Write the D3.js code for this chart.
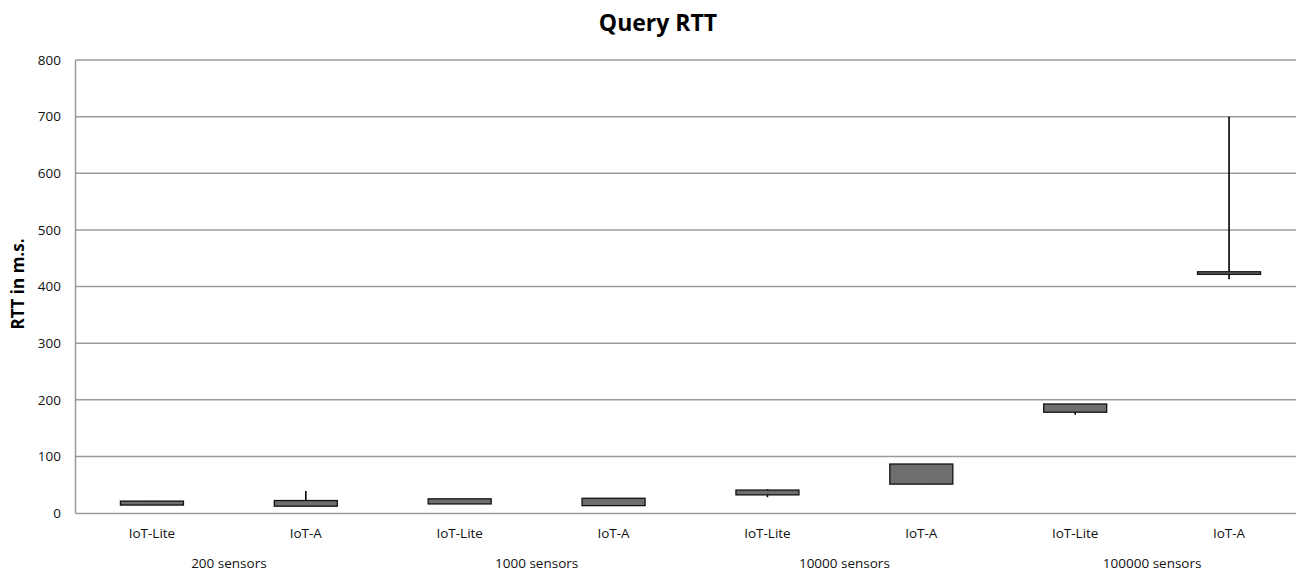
<!DOCTYPE html>
<html><head><meta charset="utf-8">
<script src="https://cdn.jsdelivr.net/npm/d3@7"></script>
<style>body{margin:0;background:#fff}svg{display:block}</style>
</head><body><svg id="c" width="1296" height="571"></svg>
<script>
const categories = ["IoT-Lite","IoT-A","IoT-Lite","IoT-A","IoT-Lite","IoT-A","IoT-Lite","IoT-A"];
const groups = ["200 sensors","1000 sensors","10000 sensors","100000 sensors"];
const boxLow  = [14, 12, 16, 13, 32, 51, 178, 421.5];
const boxHigh = [21, 22, 25, 26, 40.5, 86.5, 192.5, 426];
const whiskLow  = [14, 12, 16, 13, 28, 51, 173.5, 413];
const whiskHigh = [21, 39, 25, 26, 42, 86.5, 192.5, 700];
const yTicks = [0,100,200,300,400,500,600,700,800];

const svg = d3.select("#c");
const font = "'Open Sans', Lato, sans-serif";
const mLeft = 75, mRight = 1306, mTop = 60, mBottom = 513;
const idx = d3.range(categories.length);
const x = d3.scaleBand().domain(idx).range([mLeft, mRight]);
const y = d3.scaleLinear().domain([0, 800]).range([mBottom, mTop]);

// gridlines
svg.append("g").selectAll("line").data(yTicks.filter(d => d > 0)).join("line")
  .attr("x1", mLeft).attr("x2", mRight).attr("y1", d => y(d)).attr("y2", d => y(d))
  .attr("stroke", "#9a9a9a").attr("stroke-width", 1.5);

// y axis
const ya = svg.append("g").attr("transform", `translate(${mLeft},0)`)
  .call(d3.axisLeft(y).tickValues(yTicks).tickSize(0).tickPadding(14));
ya.select(".domain").attr("stroke", "#9a9a9a").attr("stroke-width", 1.5);
ya.selectAll("text").attr("font-family", font).attr("font-size", 13.5).attr("fill", "#111");

// x axis
const xa = svg.append("g").attr("transform", `translate(0,${mBottom})`)
  .call(d3.axisBottom(x).tickFormat(i => categories[i]).tickSize(0).tickPadding(15));
xa.select(".domain").attr("stroke", "#9a9a9a").attr("stroke-width", 1.5);
xa.selectAll("text").attr("font-family", font).attr("font-size", 13.5).attr("fill", "#111");

// group labels
svg.append("g").selectAll("text").data(groups).join("text")
  .attr("x", (d, g) => (x(2*g) + x(2*g+1) + x.bandwidth()) / 2)
  .attr("y", 568).attr("text-anchor", "middle")
  .attr("font-family", font).attr("font-size", 13.5).attr("fill", "#111").text(d => d);

// whiskers (behind boxes)
svg.append("g").selectAll("line").data(idx).join("line")
  .attr("x1", i => x(i) + x.bandwidth()/2).attr("x2", i => x(i) + x.bandwidth()/2)
  .attr("y1", i => y(whiskHigh[i])).attr("y2", i => y(whiskLow[i]))
  .attr("stroke", "#000").attr("stroke-width", 1.6);

// boxes
const bw = 63;
svg.append("g").selectAll("rect").data(idx).join("rect")
  .attr("x", i => x(i) + x.bandwidth()/2 - bw/2)
  .attr("width", bw)
  .attr("y", i => y(boxHigh[i]))
  .attr("height", i => y(boxLow[i]) - y(boxHigh[i]))
  .attr("fill", "#6e6e6e").attr("stroke", "#111").attr("stroke-width", 1.3);

// title
svg.append("text").attr("x", 658).attr("y", 31).attr("text-anchor", "middle")
  .attr("font-family", font).attr("font-weight", "bold").attr("font-size", 23)
  .attr("fill", "#000").text("Query RTT");

// y title
svg.append("text").attr("transform", "translate(24,284) rotate(-90)")
  .attr("text-anchor", "middle").attr("font-family", font).attr("font-weight", "bold")
  .attr("font-size", 17).attr("fill", "#000").text("RTT in m.s.");
</script></body></html>
